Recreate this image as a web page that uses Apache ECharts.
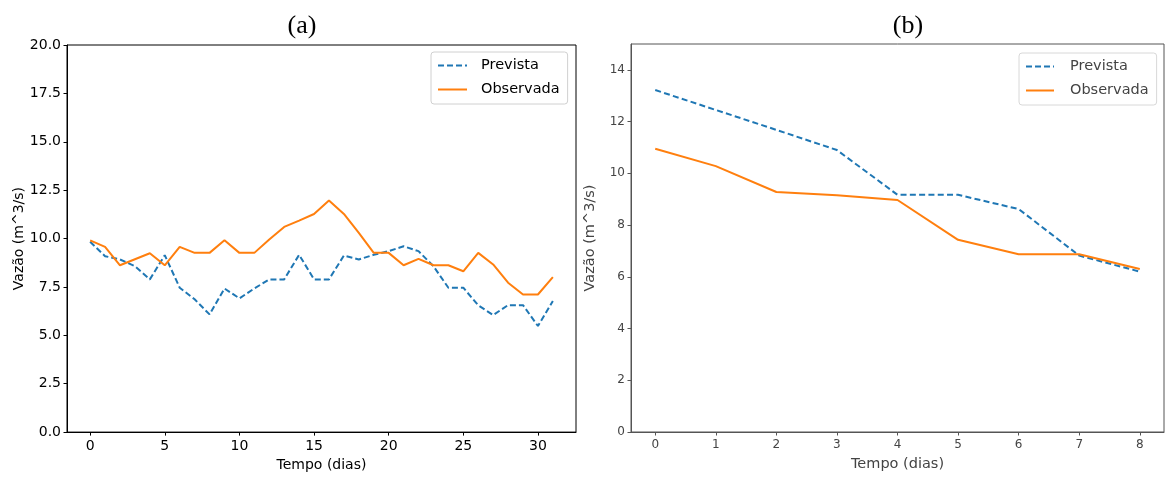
<!DOCTYPE html>
<html>
<head>
<meta charset="utf-8">
<script src="https://cdn.jsdelivr.net/npm/echarts@6/dist/echarts.min.js"></script>
<style>
html,body{margin:0;padding:0;background:#fff;}
#c{width:1165px;height:477px;}
</style>
</head>
<body>
<div id="c"></div>
<script>
// Panel (a): 32 days
const daysA = [0,1,2,3,4,5,6,7,8,9,10,11,12,13,14,15,16,17,18,19,20,21,22,23,24,25,26,27,28,29,30,31];
const previstaA = [9.83,9.09,8.92,8.57,7.89,9.14,7.46,6.86,6.08,7.42,6.91,7.42,7.89,7.89,9.16,7.89,7.89,9.12,8.92,9.16,9.35,9.6,9.35,8.57,7.46,7.46,6.55,6.05,6.56,6.56,5.48,6.77];
const observadaA = [9.91,9.57,8.62,8.93,9.24,8.62,9.57,9.26,9.26,9.91,9.26,9.26,9.95,10.6,10.93,11.27,11.97,11.27,10.29,9.26,9.26,8.62,8.95,8.62,8.62,8.31,9.26,8.66,7.72,7.11,7.11,8.01];
// Panel (b): 9 days
const daysB = [0,1,2,3,4,5,6,7,8];
const previstaB = [13.22,12.45,11.68,10.9,9.17,9.17,8.62,6.82,6.2];
const observadaB = [10.95,10.28,9.28,9.15,8.97,7.43,6.87,6.87,6.3];
// Tick labels
const xTicksA = [0,5,10,15,20,25,30];
const xTicksB = [0,1,2,3,4,5,6,7,8];
const yTicksB = [0,2,4,6,8,10,12,14];
const names = ['Prevista','Observada'];
const titles = ['(a)','(b)'];
const xName = 'Tempo (dias)';
const yName = 'Vazão (m^3/s)';

const pair = (xs, ys) => xs.map((x,i)=>[x, ys[i]]);
const BLUE = '#1f77b4', ORANGE = '#ff7f0e';
const FONT = 'DejaVu Sans';

const chart = echarts.init(document.getElementById('c'), null, {renderer:'canvas'});
chart.setOption({
  animation: false,
  backgroundColor: '#fff',
  title: [
    {text: titles[0], left: 297, top: 8, textAlign: 'center',
     textStyle:{fontFamily:'Liberation Serif', fontSize:26, fontWeight:'normal', color:'#000'}},
    {text: titles[1], left: 903, top: 8, textAlign: 'center',
     textStyle:{fontFamily:'Liberation Serif', fontSize:26, fontWeight:'normal', color:'#000'}}
  ],
  legend: [
    {data: names, orient:'vertical', left: 431, top: 52, padding:[6,8,7,6], itemGap: 9,
     itemWidth: 29, itemHeight: 14, borderColor:'#d0d0d0', borderWidth:1, borderRadius:3,
     backgroundColor:'rgba(255,255,255,0.8)',
     itemStyle:{opacity:0, borderWidth:0},
     textStyle:{fontFamily:FONT, fontSize:14.5, color:'#000', padding:[0,0,0,9]}},
    {data: names, orient:'vertical', left: 1019, top: 53, padding:[6,8,7,6], itemGap: 9,
     itemWidth: 28, itemHeight: 14, borderColor:'#d8d8d8', borderWidth:1, borderRadius:3,
     backgroundColor:'rgba(255,255,255,0.8)',
     itemStyle:{opacity:0, borderWidth:0},
     textStyle:{fontFamily:FONT, fontSize:14.5, color:'#444', padding:[0,0,0,11]}}
  ],
  grid: [
    {left: 67, top: 45, width: 509, height: 388, show: true, borderColor:'#000', borderWidth:1, backgroundColor:'transparent'},
    {left: 631, top: 44, width: 533, height: 390, show: true, borderColor:'#555', borderWidth:1, backgroundColor:'transparent'}
  ],
  xAxis: [
    {type:'value', gridIndex:0, min:-1.55, max:32.55, name:xName, nameLocation:'middle', nameGap:25,
     nameTextStyle:{fontFamily:FONT, fontSize:14, color:'#000'},
     axisLine:{show:true, onZero:false, lineStyle:{color:'#000', width:1}},
     axisTick:{show:true, length:3.5, lineStyle:{color:'#000'}, customValues:xTicksA},
     axisLabel:{fontFamily:FONT, fontSize:14, color:'#000', margin:7, customValues:xTicksA},
     splitLine:{show:false}},
    {type:'value', gridIndex:1, min:-0.4, max:8.4, name:xName, nameLocation:'middle', nameGap:25,
     nameTextStyle:{fontFamily:FONT, fontSize:14.5, color:'#444'},
     axisLine:{show:true, onZero:false, lineStyle:{color:'#555', width:1}},
     axisTick:{show:true, length:3.5, lineStyle:{color:'#555'}, customValues:xTicksB},
     axisLabel:{fontFamily:FONT, fontSize:12, color:'#444', margin:7, customValues:xTicksB},
     splitLine:{show:false}},
  ],
  yAxis: [
    {type:'value', gridIndex:0, min:0, max:20, interval:2.5, name:yName, nameLocation:'middle', nameGap:41,
     nameTextStyle:{fontFamily:FONT, fontSize:14, color:'#000'},
     axisLine:{show:true, onZero:false, lineStyle:{color:'#000', width:1}},
     axisTick:{show:true, length:3.5, lineStyle:{color:'#000'}},
     axisLabel:{fontFamily:FONT, fontSize:14, color:'#000', margin:6, formatter:v=>v.toFixed(1)},
     splitLine:{show:false}},
    {type:'value', gridIndex:1, min:0, max:15, name:yName, nameLocation:'middle', nameGap:33,
     nameTextStyle:{fontFamily:FONT, fontSize:14.5, color:'#444'},
     axisLine:{show:true, onZero:false, lineStyle:{color:'#555', width:1}},
     axisTick:{show:true, length:3.5, lineStyle:{color:'#555'}, customValues:yTicksB},
     axisLabel:{fontFamily:FONT, fontSize:12, color:'#444', margin:6, customValues:yTicksB},
     splitLine:{show:false}}
  ],
  series: [
    {name:names[0], type:'line', xAxisIndex:0, yAxisIndex:0, data:pair(daysA, previstaA), symbol:'none',
     lineStyle:{color:BLUE, width:2, type:[6,3]}, itemStyle:{color:BLUE}},
    {name:names[1], type:'line', xAxisIndex:0, yAxisIndex:0, data:pair(daysA, observadaA), symbol:'none',
     lineStyle:{color:ORANGE, width:2}, itemStyle:{color:ORANGE}},
    {name:names[0], type:'line', xAxisIndex:1, yAxisIndex:1, data:pair(daysB, previstaB), symbol:'none',
     lineStyle:{color:BLUE, width:2, type:[6,3.3]}, itemStyle:{color:BLUE}},
    {name:names[1], type:'line', xAxisIndex:1, yAxisIndex:1, data:pair(daysB, observadaB), symbol:'none',
     lineStyle:{color:ORANGE, width:2}, itemStyle:{color:ORANGE}}
  ]
});
</script>
</body>
</html>
